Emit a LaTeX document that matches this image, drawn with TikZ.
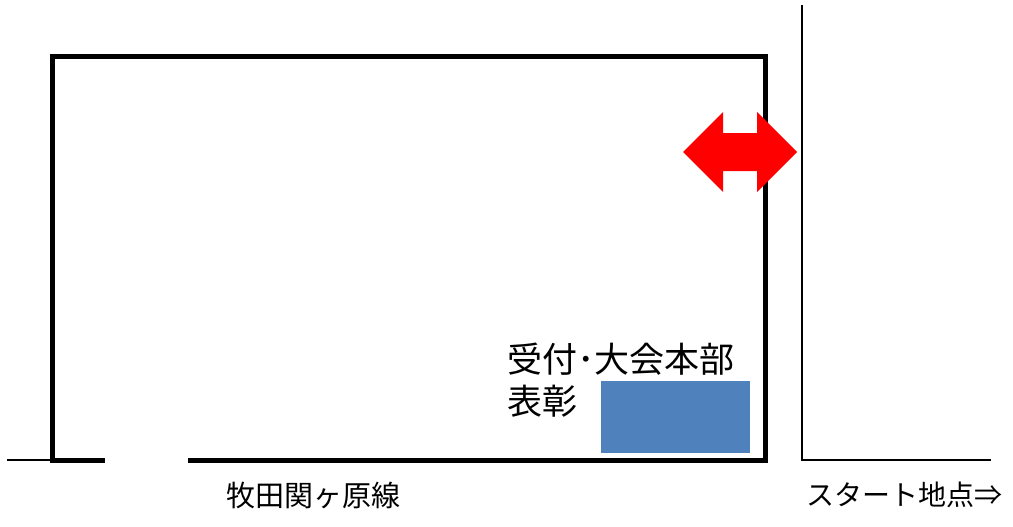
\documentclass[tikz,border=0pt]{standalone}
\usepackage{fontspec}
\setmainfont{Noto Sans CJK JP}
\definecolor{deskblue}{RGB}{79,129,189}
\begin{document}
\begin{tikzpicture}[x=1pt,y=-1pt,
  wall/.style={line width=5pt,line join=miter},
  road/.style={line width=2pt},
  office/.style={anchor=west,inner sep=0pt,font=\fontsize{35}{40}\selectfont},
  place/.style={anchor=west,inner sep=0pt,font=\fontsize{28}{32}\selectfont}]

  \useasboundingbox (0,0) rectangle (1013,527);

  % roads
  \draw[road] (7,460) -- (52,460);
  \draw[road] (802,5) -- (802,460) -- (991,460);

  % venue
  \draw[wall] (105,460) -- (52,460) -- (52,57) -- (765,57) -- (765,460) -- (188,460);
  \fill[deskblue] (601,381) rectangle (750,453);

  % entrance
  \fill[red] (683,152) -- (723,112) -- (723,133) -- (757,133) -- (757,112)
    -- (797,152) -- (757,192) -- (757,171) -- (723,171) -- (723,192) -- cycle;

  \node[office] (desk) at (507,359) {受付･大会本部};
  \node[office] (award) at (507,401) {表彰};
  \node[place,font=\fontsize{29}{32}\selectfont] (route) at (226,495) {牧田関ヶ原線};
  \node[place] (start) at (806,495) {スタート地点⇒};
\end{tikzpicture}
\end{document}
